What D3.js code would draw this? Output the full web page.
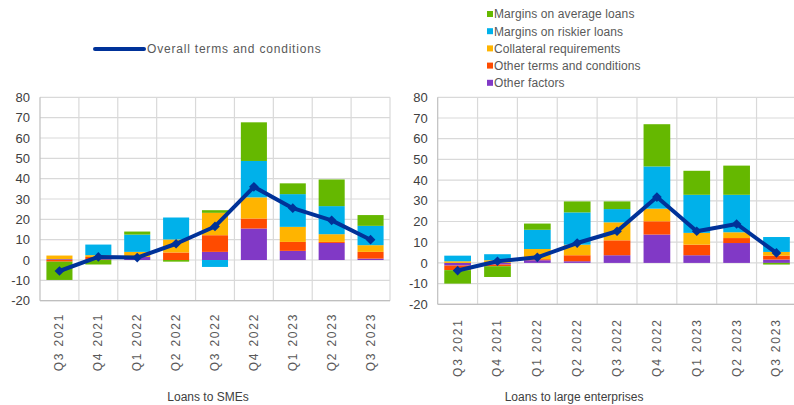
<!DOCTYPE html>
<html>
<head>
<meta charset="utf-8">
<script src="https://cdn.jsdelivr.net/npm/d3@7"></script>
<style>
  body { margin: 0; background: #fff; }
  svg { display: block; font-family: "Liberation Sans", Arial, sans-serif; }
</style>
</head>
<body>
<svg width="794" height="405"></svg>
<script>
// Quarters on the x axis
const quarters = ['Q3 2021', 'Q4 2021', 'Q1 2022', 'Q2 2022', 'Q3 2022', 'Q4 2022', 'Q1 2023', 'Q2 2023', 'Q3 2023']
const yTicks = [-20, -10, 0, 10, 20, 30, 40, 50, 60, 70, 80]

// Loans to SMEs
const smeOtherFactors = [0.4, 0.3, 1.5, 0, 4, 15.5, 4.5, 8.4, 0.7]
const smeOtherTerms = [-0.8, 1.2, 0, 3.7, 8.2, 4.9, 4.4, 0.5, 3.3]
const smeCollateral = [1.8, 0.9, 2.5, 6.4, 11, 10.4, 7.4, 3.8, 3.3]
const smeRiskier = [0, 5.2, 8.5, 10.8, -3.4, 17.9, 16.1, 13.8, 9.5]
const smeAverage = [-9, -2.2, 1.5, -0.8, 1.3, 19, 5.3, 13.1, 5.3]
const smeOverall = [-5.4, 1.5, 1.2, 8, 16.5, 36, 25.5, 19.5, 10]

// Loans to large enterprises
const leOtherFactors = [-1.3, -0.8, 1.3, 0.8, 3.7, 13.7, 3.7, 9.6, 1.6]
const leOtherTerms = [-2.2, -0.8, 0.5, 2.9, 7.2, 6.4, 5.1, 2.4, 1.9]
const leCollateral = [0.8, 1.3, 4.9, 5.1, 8.7, 6.1, 5.7, 2.8, 1.8]
const leRiskier = [2.7, 2.9, 9.3, 15.6, 6.4, 20.4, 18.4, 18.1, 7.2]
const leAverage = [-6.5, -5.2, 3, 5.3, 3.7, 20.4, 11.6, 14.1, -0.8]
const leOverall = [-3.7, 0.8, 2.7, 9.6, 15.3, 31.8, 15.3, 18.8, 4.8]

// Series, bottom of the stack first
const seriesKeys = ['otherFactors', 'otherTerms', 'collateral', 'riskier', 'average']
const seriesNames = {
  average: 'Margins on average loans',
  riskier: 'Margins on riskier loans',
  collateral: 'Collateral requirements',
  otherTerms: 'Other terms and conditions',
  otherFactors: 'Other factors'
}
const colors = {
  average: '#65b800',
  riskier: '#00b1ea',
  collateral: '#ffb400',
  otherTerms: '#ff4b00',
  otherFactors: '#8139c6'
}
const lineColor = '#003299'

const svg = d3.select('svg')

function buildRows(f, t, c, r, a){
  return quarters.map((q, i) => ({
    quarter: q,
    otherFactors: f[i], otherTerms: t[i], collateral: c[i], riskier: r[i], average: a[i]
  }))
}

function drawPanel(opt){
  const x = d3.scaleBand().domain(quarters).range([opt.left, opt.right])
  const y = d3.scaleLinear().domain([-20, 80]).range([opt.bottom, opt.top])
  const g = svg.append('g')

  // gridlines
  g.selectAll('.hgrid')
    .data(yTicks)
    .enter().append('line')
      .attr('x1', opt.left).attr('x2', opt.right)
      .attr('y1', d => y(d)).attr('y2', d => y(d))
      .attr('stroke', '#d9d9d9').attr('stroke-width', 1.2)
  g.selectAll('.vgrid')
    .data(quarters.slice(1).concat(['end']))
    .enter().append('line')
      .attr('x1', d => d === 'end' ? opt.right : x(d))
      .attr('x2', d => d === 'end' ? opt.right : x(d))
      .attr('y1', opt.top).attr('y2', opt.bottom)
      .attr('stroke', '#d9d9d9').attr('stroke-width', 1.2)

  // axes lines
  g.append('line')
    .attr('x1', opt.left).attr('x2', opt.left)
    .attr('y1', opt.top).attr('y2', opt.bottom)
    .attr('stroke', '#bfbfbf').attr('stroke-width', 1.2)
  g.append('line')
    .attr('x1', opt.left).attr('x2', opt.right)
    .attr('y1', opt.bottom).attr('y2', opt.bottom)
    .attr('stroke', '#bfbfbf').attr('stroke-width', 1.2)

  // y tick labels
  g.selectAll('.ytick')
    .data(yTicks)
    .enter().append('text')
      .attr('x', opt.left - 10)
      .attr('y', d => y(d))
      .attr('dy', '0.36em')
      .attr('text-anchor', 'end')
      .attr('font-size', 13)
      .attr('fill', '#404040')
      .text(d => d)

  // x tick labels
  g.selectAll('.xtick')
    .data(quarters)
    .enter().append('text')
      .attr('transform', d => 'translate(' + (x(d) + x.bandwidth() / 2 + 4) + ',' + (opt.bottom + opt.labelGap) + ') rotate(-90)')
      .attr('text-anchor', 'end')
      .attr('font-size', 12)
      .attr('letter-spacing', 1.8)
      .attr('fill', '#595959')
      .text(d => d.replace(' ', '  '))

  // stacked bars
  const stacked = d3.stack().keys(seriesKeys).offset(d3.stackOffsetDiverging)(opt.rows)
  const barW = x.bandwidth() * 0.67
  g.selectAll('.layer')
    .data(stacked)
    .enter().append('g')
      .attr('fill', d => colors[d.key])
    .selectAll('rect')
    .data(d => d)
    .enter().append('rect')
      .attr('x', d => x(d.data.quarter) + (x.bandwidth() - barW) / 2)
      .attr('y', d => y(Math.max(d[0], d[1])))
      .attr('width', barW)
      .attr('height', d => Math.abs(y(d[0]) - y(d[1])))

  // overall line
  const pts = quarters.map((q, i) => [x(q) + x.bandwidth() / 2, y(opt.overall[i])])
  g.append('path')
    .attr('d', d3.line()(pts))
    .attr('fill', 'none')
    .attr('stroke', lineColor)
    .attr('stroke-width', 4)
    .attr('stroke-linejoin', 'round')
  g.selectAll('.marker')
    .data(pts)
    .enter().append('path')
      .attr('d', d3.symbol(d3.symbolDiamond2, 60))
      .attr('transform', d => 'translate(' + d[0] + ',' + d[1] + ')')
      .attr('fill', lineColor)

  // axis title
  svg.append('text')
    .attr('x', opt.titleX).attr('y', 401)
    .attr('text-anchor', 'middle')
    .attr('font-size', 12)
    .attr('fill', '#404040')
    .text(opt.title)
}

drawPanel({
  left: 40, right: 390, top: 97.3, bottom: 300.7, labelGap: 12,
  rows: buildRows(smeOtherFactors, smeOtherTerms, smeCollateral, smeRiskier, smeAverage),
  overall: smeOverall, title: 'Loans to SMEs', titleX: 208
})
drawPanel({
  left: 437.7, right: 796.4, top: 97.3, bottom: 304.3, labelGap: 14,
  rows: buildRows(leOtherFactors, leOtherTerms, leCollateral, leRiskier, leAverage),
  overall: leOverall, title: 'Loans to large enterprises', titleX: 574
})

// legend: line series
const lineLegend = svg.append('g')
lineLegend.append('line')
  .attr('x1', 95).attr('x2', 144).attr('y1', 49).attr('y2', 49)
  .attr('stroke', lineColor).attr('stroke-width', 4).attr('stroke-linecap', 'round')
lineLegend.append('text')
  .attr('x', 147).attr('y', 49).attr('dy', '0.36em')
  .attr('font-size', 12).attr('letter-spacing', 0.8).attr('fill', '#595959')
  .text('Overall terms and conditions')

// legend: bar series
const legendOrder = ['average', 'riskier', 'collateral', 'otherTerms', 'otherFactors']
const barLegend = svg.append('g')
  .selectAll('g')
  .data(legendOrder)
  .enter().append('g')
    .attr('transform', (d, i) => 'translate(487,' + (14 + i * 17.2) + ')')
barLegend.append('rect')
  .attr('x', 0).attr('y', -3).attr('width', 6).attr('height', 6)
  .attr('fill', d => colors[d])
barLegend.append('text')
  .attr('x', 7).attr('dy', '0.36em')
  .attr('font-size', 12).attr('letter-spacing', 0.1).attr('fill', '#595959')
  .text(d => seriesNames[d])
</script>
</body>
</html>
